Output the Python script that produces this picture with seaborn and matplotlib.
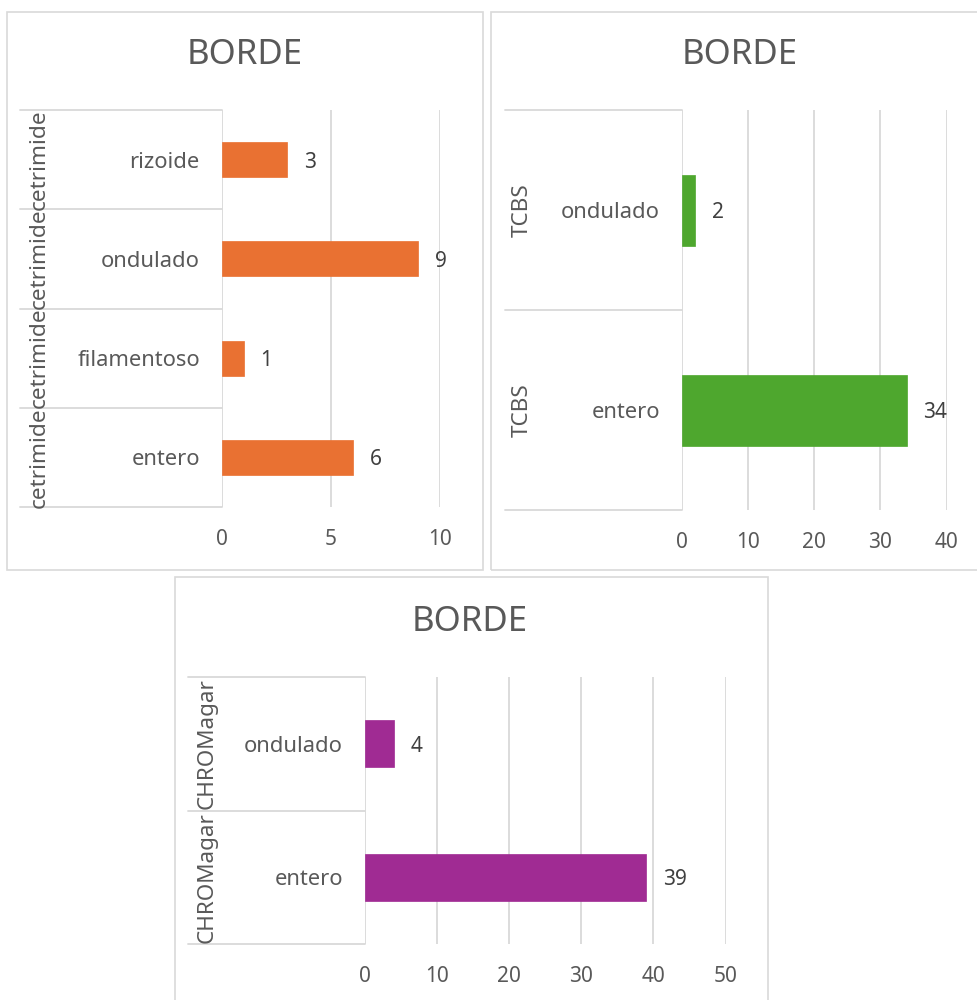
import matplotlib
matplotlib.use("Agg")
import matplotlib.pyplot as plt
import matplotlib.transforms as mtransforms
from matplotlib.patches import Rectangle
import seaborn as sns

sns.set_theme(style="white")
plt.rcParams["font.family"] = ["Noto Sans", "DejaVu Sans"]

# --- data -------------------------------------------------------------
title = "BORDE"

cetrimide_cats = ["rizoide", "ondulado", "filamentoso", "entero"]
cetrimide_vals = [3, 9, 1, 6]

tcbs_cats = ["ondulado", "entero"]
tcbs_vals = [2, 34]

chromagar_cats = ["ondulado", "entero"]
chromagar_vals = [4, 39]

cetrimide_ticks = [0, 5, 10]
tcbs_ticks = [0, 10, 20, 30, 40]
chromagar_ticks = [0, 10, 20, 30, 40, 50]

# --- styling ----------------------------------------------------------
W, H = 977, 1000
GRID = "#D9D9D9"
TEXT = "#595959"
VALUE = "#404040"
FS = 15
FS_CAT = 15.8
FS_GROUP = 16.2

fig = plt.figure(figsize=(W / 100, H / 100), dpi=100)


def px_axes(left, top, right, bottom):
    return fig.add_axes([left / W, 1 - bottom / H, (right - left) / W, (bottom - top) / H])


def frame(x0, y0, x1, y1):
    fig.patches.append(Rectangle((x0 / W, 1 - y1 / H), (x1 - x0) / W, (y1 - y0) / H,
                                 transform=fig.transFigure, fill=False,
                                 edgecolor=GRID, linewidth=1.2))


def panel(cats, vals, ticks, group, color, box, plot, cat_left, group_x, title_xy):
    frame(*box)
    left, top, right, bottom = plot
    ax = px_axes(left, top, right, bottom)
    sns.barplot(x=vals, y=cats, orient="h", color=color, saturation=1,
                width=0.355, ax=ax, edgecolor=color, linewidth=0.5)
    n = len(cats)
    ax.set_xlim(0, ticks[-1])
    ax.set_ylim(n - 0.5, -0.5)
    ax.set_xticks(ticks)
    ax.xaxis.grid(True, color=GRID, linewidth=1.3)
    ax.yaxis.grid(False)
    ax.set_axisbelow(True)
    for s in ax.spines.values():
        s.set_visible(False)
    ax.tick_params(axis="x", length=0, pad=16, labelsize=FS, labelcolor=TEXT)
    ax.tick_params(axis="y", length=0, pad=16, labelsize=FS_CAT, labelcolor=TEXT)
    ax.set_xlabel("")
    ax.set_ylabel("")

    for c in ax.containers:
        for t in ax.bar_label(c, padding=12, fontsize=FS, color=VALUE):
            t.set_verticalalignment("center_baseline")

    # multi-level category axis: separators and outer group labels
    width_px = right - left
    ax_left = (cat_left - left) / width_px
    gx = (group_x - left) / width_px
    trans = mtransforms.blended_transform_factory(ax.transAxes, ax.transData)
    for b in [i - 0.5 for i in range(n + 1)]:
        ax.plot([ax_left, 0], [b, b], color=GRID, linewidth=1.3,
                transform=trans, clip_on=False)
    for i in range(n):
        ax.text(gx, i, group, rotation=90, ha="center", va="center",
                fontsize=FS_GROUP, color=TEXT, transform=trans, clip_on=False)

    fig.text(title_xy[0] / W, 1 - title_xy[1] / H, title, ha="center", va="center",
             fontsize=25, color=TEXT)
    return ax


panel(cetrimide_cats, cetrimide_vals, cetrimide_ticks, "cetrimide", "#E97132",
      box=(7, 12, 483, 570), plot=(222, 110, 440, 507), cat_left=20, group_x=39,
      title_xy=(245, 55))

panel(tcbs_cats, tcbs_vals, tcbs_ticks, "TCBS", "#4EA72E",
      box=(491, 12, 985, 570), plot=(682, 110, 946.5, 510), cat_left=505, group_x=522,
      title_xy=(740, 55))

panel(chromagar_cats, chromagar_vals, chromagar_ticks, "CHROMagar", "#A02B93",
      box=(175, 577, 768, 1010), plot=(365, 677, 725.5, 944), cat_left=188, group_x=207,
      title_xy=(470, 622))

fig.savefig("out.png", dpi=100, facecolor="white")
